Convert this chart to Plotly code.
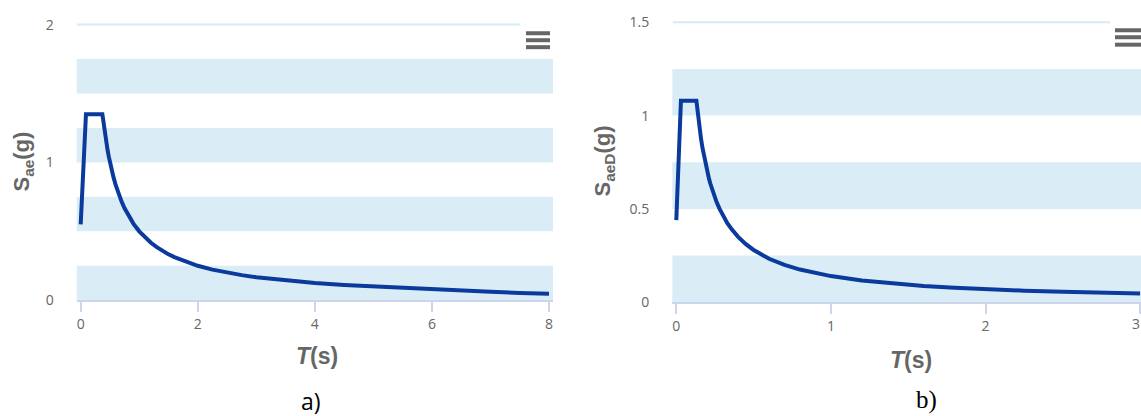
import plotly.graph_objects as go

# ---- data ----
T_a = [0, 0.09, 0.37, 0.38, 0.39, 0.40, 0.42, 0.44, 0.46, 0.48, 0.5, 0.53, 0.56, 0.6, 0.65, 0.7,
       0.75, 0.8, 0.9, 1.0, 1.1, 1.2, 1.3, 1.4, 1.5, 1.6, 1.8, 2.0, 2.25, 2.5, 2.75, 3.0, 3.5,
       4.0, 4.5, 5.0, 5.5, 6.0, 6.5, 7.0, 7.5, 8.0]
Sae_a = [0.55, 1.35, 1.35, 1.316, 1.282, 1.25, 1.19, 1.136, 1.087, 1.042, 1.0, 0.943, 0.893,
         0.833, 0.769, 0.714, 0.667, 0.625, 0.556, 0.5, 0.455, 0.417, 0.385, 0.357, 0.333,
         0.3125, 0.278, 0.25, 0.222, 0.2, 0.182, 0.167, 0.143, 0.125, 0.111, 0.1, 0.091, 0.083,
         0.071, 0.061, 0.053, 0.047]

T_b = [0, 0.03, 0.13, 0.135, 0.14, 0.145, 0.15, 0.16, 0.17, 0.18, 0.19, 0.2, 0.21, 0.22, 0.24,
       0.26, 0.28, 0.3, 0.33, 0.36, 0.4, 0.45, 0.5, 0.6, 0.7, 0.8, 0.9, 1.0, 1.2, 1.4, 1.6, 1.8,
       2.0, 2.25, 2.5, 2.75, 3.0]
SaeD_b = [0.44, 1.08, 1.08, 1.037, 1.0, 0.966, 0.933, 0.875, 0.824, 0.778, 0.737, 0.7, 0.667,
          0.636, 0.583, 0.538, 0.5, 0.467, 0.424, 0.389, 0.35, 0.311, 0.28, 0.233, 0.2, 0.175,
          0.156, 0.14, 0.117, 0.1, 0.0875, 0.078, 0.07, 0.062, 0.056, 0.051, 0.047]

xticks_a = [0, 2, 4, 6, 8]
yticks_a = [0, 1, 2]
xticks_b = [0, 1, 2, 3]
xtick_text_b = ["0", "1", "2", ""]      # the "3" label sits at the page edge, drawn below
last_xtick_b = "3"
yticks_b = [0, 0.5, 1, 1.5]
ytick_text_b = ["0", "0.5", "1", "1.5"]
bands_a = [(0, 0.25), (0.5, 0.75), (1.0, 1.25), (1.5, 1.75)]
bands_b = [(0, 0.25), (0.5, 0.75), (1.0, 1.25)]

W, H = 1141, 416
def px(x): return x / W
def py(y):
    # map a target screen row to a paper fraction (compensating the capture's vertical mapping)
    return 1 - ((y - 5.6) / 0.967) / H

LINE = "#0a3a9c"
BAND = "rgb(218,237,247)"
AX = "#ccd6eb"
TXT = "#666666"

fig = go.Figure()
fig.add_trace(go.Scatter(x=T_a, y=Sae_a, mode="lines", line=dict(color=LINE, width=4),
                         xaxis="x", yaxis="y", showlegend=False, hoverinfo="skip"))
fig.add_trace(go.Scatter(x=T_b, y=SaeD_b, mode="lines", line=dict(color=LINE, width=4),
                         xaxis="x2", yaxis="y2", showlegend=False, hoverinfo="skip"))

shapes = []
for y0, y1 in bands_a:
    shapes.append(dict(type="rect", xref="x domain", yref="y", x0=0, x1=1, y0=y0, y1=y1,
                       fillcolor=BAND, line=dict(width=0), layer="below"))
for y0, y1 in bands_b:
    shapes.append(dict(type="rect", xref="x2 domain", yref="y2", x0=0, x1=1, y0=y0, y1=y1,
                       fillcolor=BAND, line=dict(width=0), layer="below"))
# top reference lines
shapes.append(dict(type="line", xref="paper", yref="y", x0=px(77), x1=px(520), y0=2, y1=2,
                   line=dict(color="rgb(214,234,247)", width=2), layer="below"))
shapes.append(dict(type="line", xref="paper", yref="y2", x0=px(673), x1=px(1110), y0=1.5, y1=1.5,
                   line=dict(color="rgb(214,234,247)", width=2), layer="below"))
# hamburger menu icons
for yy in (32, 39, 46):
    shapes.append(dict(type="line", xref="paper", yref="paper", x0=px(526), x1=px(550),
                       y0=py(yy), y1=py(yy), line=dict(color="#666666", width=4)))
for yy in (29, 36, 43.5):
    shapes.append(dict(type="line", xref="paper", yref="paper", x0=px(1115), x1=px(1141),
                       y0=py(yy), y1=py(yy), line=dict(color="#666666", width=4)))

tickfont = dict(family="Open Sans, sans-serif", size=14, color=TXT)
xcommon = dict(showgrid=False, zeroline=False, showline=True, linecolor=AX, linewidth=1.5,
               ticks="outside", ticklen=10, tickcolor=AX, tickwidth=1.5, tickfont=tickfont,
               fixedrange=True)
ycommon = dict(showgrid=False, zeroline=False, showline=False, ticks="", tickfont=tickfont,
               ticklabelstandoff=22, fixedrange=True)

fig.update_layout(
    width=W, height=H, margin=dict(l=0, r=0, t=0, b=0),
    paper_bgcolor="white", plot_bgcolor="white",
    xaxis=dict(domain=[px(76.7), px(553)], range=[-4 / 58.54, 8 + 4 / 58.54],
               tickvals=xticks_a, anchor="y", **xcommon),
    yaxis=dict(domain=[py(300.5), py(20)], range=[0, 2 + 3.3 / 138.6],
               tickvals=yticks_a, anchor="x", **ycommon),
    xaxis2=dict(domain=[px(672.3), 1.0], range=[-4 / 154.6, (1141 - 676.3) / 154.6],
                tickvals=xticks_b, ticktext=xtick_text_b, anchor="y2", **xcommon),
    yaxis2=dict(domain=[py(302.5), py(18)], range=[0, 1.5 + 3 / 187.7],
                tickvals=yticks_b, ticktext=ytick_text_b, anchor="x2", **ycommon),
    shapes=shapes,
)

title_font = dict(family="Liberation Sans, Arial, sans-serif", size=22, color=TXT)
ann = [
    dict(text="<b>S<sub>ae</sub>(g)</b>", x=px(23), y=py(161), textangle=-90, font=title_font),
    dict(text="<b>S<sub>aeD</sub>(g)</b>", x=px(604), y=py(161), textangle=-90, font=title_font),
    dict(text="<b><i>T</i>(s)</b>", x=px(317), y=py(357), font=dict(title_font, size=23)),
    dict(text="<b><i>T</i>(s)</b>", x=px(911), y=py(361), font=dict(title_font, size=23)),
    dict(text="a)", x=px(311), y=py(402), font=dict(family="Open Sans, sans-serif", size=23, color="black")),
    dict(text="b)", x=px(926), y=py(401), font=dict(family="Liberation Serif, serif", size=25, color="black")),
    dict(text=last_xtick_b, x=1.0, y=py(324), xanchor="right", font=tickfont, borderpad=0),
]
for a in ann:
    a.setdefault("xanchor", "center")
    a.update(xref="paper", yref="paper", showarrow=False, yanchor="middle")
fig.update_layout(annotations=ann)

fig.write_html("out.html", config={"displayModeBar": False},
               post_script="document.body.style.margin='0';document.body.style.overflow='hidden';")
